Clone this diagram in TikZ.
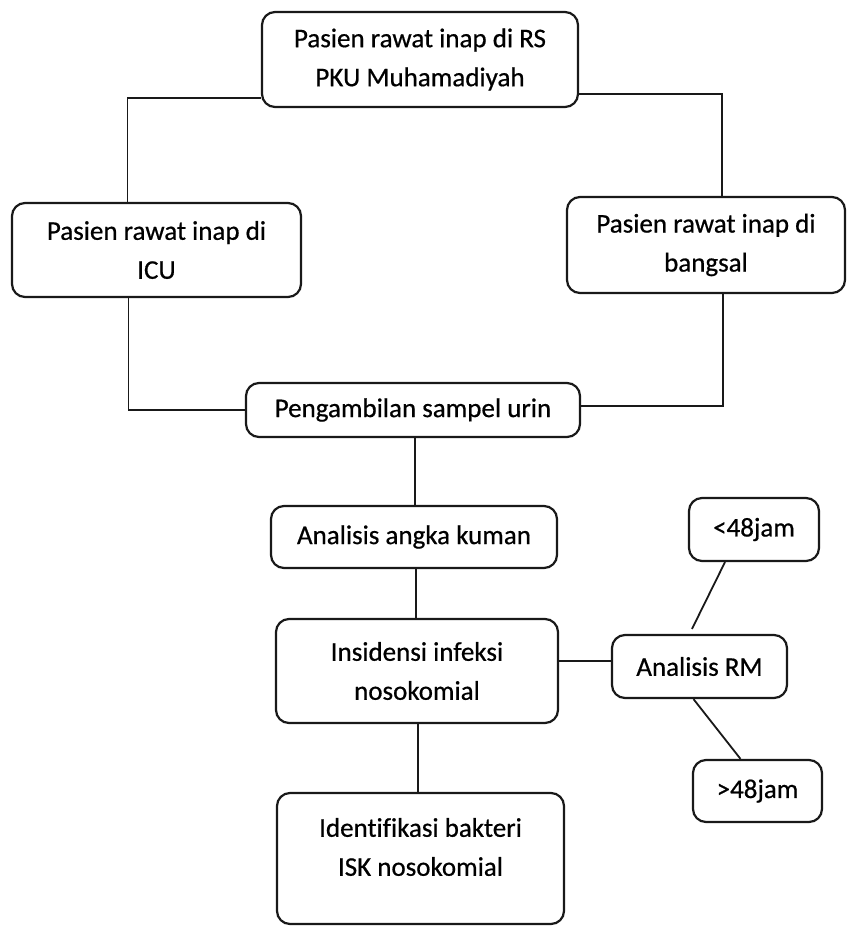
\documentclass[tikz,border=0pt]{standalone}
\usepackage{fontspec}
\setmainfont[Ligatures=NoCommon,FakeBold=0.6]{Carlito}
\begin{document}
\begin{tikzpicture}[x=1pt,y=-1pt,
  box/.style={draw=black!90, line width=2.2pt, rounded corners=13pt, align=center,
    inner sep=0pt, font=\fontsize{27}{39}\selectfont},
  txt/.style={align=center, inner sep=0pt, font=\fontsize{27}{39}\selectfont},
  conn/.style={draw=black!90, line width=1.8pt}]
\useasboundingbox (0,0) rectangle (847,927);
\node[box, minimum width=316pt, minimum height=95pt] (top) at (420,59.5) {Pasien rawat inap di RS\\PKU Muhamadiyah};
\node[box, minimum width=289pt, minimum height=94pt] (icu) at (156.5,250) {Pasien rawat inap di\\ICU};
\node[box, minimum width=278pt, minimum height=96pt] (bangsal) at (706,245) {Pasien rawat inap di\\bangsal};
\node[box, minimum width=334pt, minimum height=54pt] (peng) at (413,410) {Pengambilan sampel urin};
\node[box, minimum width=286pt, minimum height=62pt] (aak) at (414,537) {Analisis angka kuman};
\node[box, minimum width=282pt, minimum height=104pt] (insid) at (417,671) {Insidensi infeksi\\nosokomial};
\node[box, minimum width=287pt, minimum height=131pt] (ident) at (420.5,858.5) {};
\node[txt] (identtxt) at (420.5,847) {Identifikasi bakteri\\ISK nosokomial};
\node[box, minimum width=130pt, minimum height=63pt] (lt48) at (754,529.5) {<48jam};
\node[box, minimum width=175pt, minimum height=63pt] (rm) at (699.5,666.5) {Analisis RM};
\node[box, minimum width=129pt, minimum height=62pt] (gt48) at (757.5,791) {>48jam};

\draw[conn] ([yshift=10pt]top.south west) -| ([xshift=-29pt]icu.north);
\draw[conn] ([yshift=14pt]top.south east) -| ([xshift=16pt]bangsal.north);
\draw[conn] ([xshift=-28pt]icu.south) |- (peng.west);
\draw[conn] ([xshift=17pt]bangsal.south) |- ([yshift=4pt]peng.east);
\draw[conn] ([xshift=2pt]peng.south) -- ([xshift=2pt]peng.south |- aak.north);
\draw[conn] ([xshift=2pt]aak.south) -- ([xshift=2pt]aak.south |- insid.north);
\draw[conn] ([xshift=1pt]insid.south) -- ([xshift=1pt]insid.south |- ident.north);
\draw[conn] ([yshift=10pt]insid.east) -- ([yshift=10pt]insid.east -| rm.west);
\coordinate (rmtop) at ([xshift=-7.5pt,yshift=5pt]rm.north);
\draw[conn] ([xshift=-29pt]lt48.south) -- (rmtop);
\draw[conn] ([xshift=-6pt]rm.south) -- ([xshift=-17pt]gt48.north);
\end{tikzpicture}
\end{document}
